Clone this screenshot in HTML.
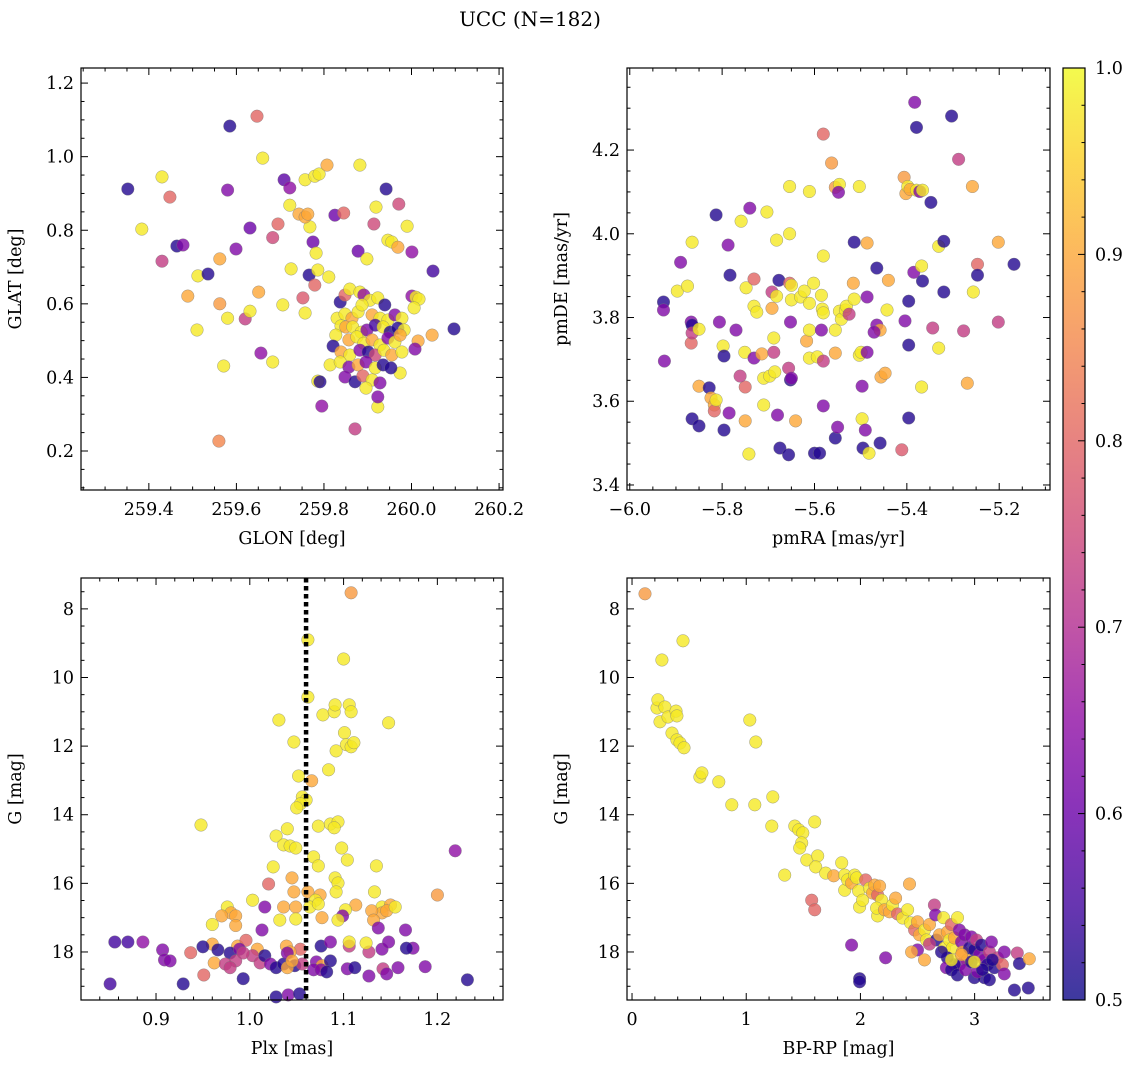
<!DOCTYPE html>
<html><head><meta charset="utf-8">
<style>
html,body{margin:0;padding:0;background:#fff;}
svg{display:block;font-family:"DejaVu Serif","Liberation Serif",serif;}
</style></head>
<body>
<svg id="chart" width="1136" height="1067" viewBox="0 0 1136 1067" xmlns="http://www.w3.org/2000/svg">
<defs>
<linearGradient id="plasma" x1="0" y1="1" x2="0" y2="0">
<stop offset="0" stop-color="#0d0887"/><stop offset="0.1" stop-color="#41049d"/><stop offset="0.2" stop-color="#6a00a8"/><stop offset="0.3" stop-color="#8f0da4"/><stop offset="0.4" stop-color="#b12a90"/><stop offset="0.5" stop-color="#cc4778"/><stop offset="0.6" stop-color="#e16462"/><stop offset="0.7" stop-color="#f2844b"/><stop offset="0.8" stop-color="#fca636"/><stop offset="0.9" stop-color="#fcce25"/><stop offset="1" stop-color="#f0f921"/>
</linearGradient>
</defs>
<text x="530" y="26" font-size="20" text-anchor="middle">UCC (N=182)</text>
</svg>
<script>
// ---------- Panel 1: GLON / GLAT ----------
const glon=[259.352,259.384,259.43,259.448,259.464,259.478,259.43,259.489,259.512,259.51,259.535,259.562,259.562,259.56,259.58,259.571,259.585,259.58,259.599,259.62,259.631,259.631,259.647,259.66,259.651,259.656,259.683,259.683,259.695,259.706,259.709,259.722,259.722,259.725,259.743,259.768,259.757,259.763,259.757,259.779,259.789,259.807,259.775,259.752,259.757,259.766,259.779,259.782,259.786,259.786,259.791,259.795,259.811,259.825,259.845,259.882,259.878,259.898,259.914,259.919,259.942,259.946,259.955,259.971,259.99,259.969,260.001,260.049,260.001,260.01,260.017,260.006,260.047,260.097,260.015,260.008,259.974,259.871,259.923,259.923,
259.837,259.848,259.859,259.882,259.891,259.905,259.923,259.939,259.83,259.848,259.864,259.878,259.887,259.91,259.928,259.946,259.962,259.978,259.839,259.85,259.866,259.885,259.898,259.917,259.935,259.951,259.969,259.983,259.827,259.857,259.875,259.891,259.91,259.928,259.946,259.962,259.974,259.821,259.839,259.859,259.882,259.901,259.917,259.937,259.955,259.978,259.814,259.837,259.857,259.878,259.896,259.917,259.935,259.953,259.848,259.871,259.889,259.91,259.928,259.896];
const glat=[0.912,0.803,0.945,0.89,0.757,0.76,0.716,0.621,0.676,0.529,0.681,0.722,0.6,0.227,0.561,0.431,1.083,0.909,0.749,0.559,0.806,0.58,1.11,0.996,0.632,0.466,0.442,0.78,0.817,0.597,0.937,0.915,0.868,0.695,0.844,0.809,0.836,0.844,0.937,0.947,0.953,0.977,0.768,0.616,0.575,0.678,0.651,0.738,0.692,0.39,0.388,0.322,0.673,0.841,0.847,0.977,0.743,0.722,0.817,0.863,0.912,0.773,0.768,0.871,0.811,0.754,0.741,0.689,0.621,0.618,0.613,0.589,0.515,0.532,0.499,0.477,0.412,0.26,0.32,0.347,
0.605,0.624,0.64,0.632,0.624,0.61,0.616,0.597,0.561,0.572,0.561,0.578,0.597,0.57,0.561,0.556,0.57,0.561,0.54,0.537,0.537,0.523,0.529,0.542,0.537,0.523,0.534,0.529,0.515,0.502,0.51,0.493,0.502,0.488,0.507,0.496,0.515,0.485,0.469,0.461,0.474,0.469,0.461,0.474,0.461,0.469,0.434,0.442,0.428,0.434,0.442,0.426,0.434,0.426,0.401,0.388,0.404,0.393,0.385,0.371];
const prob1=[0.52,0.98,0.98,0.8,0.52,0.63,0.73,0.9,0.98,0.98,0.52,0.9,0.88,0.85,0.98,0.98,0.52,0.63,0.63,0.73,0.6,0.98,0.8,0.98,0.9,0.65,0.98,0.75,0.8,0.98,0.58,0.65,0.98,0.98,0.9,0.98,0.9,0.9,0.98,0.98,0.98,0.9,0.6,0.78,0.98,0.52,0.8,0.98,0.98,0.98,0.52,0.65,0.98,0.6,0.8,0.98,0.6,0.98,0.75,0.98,0.52,0.98,0.98,0.75,0.98,0.9,0.65,0.55,0.65,0.98,0.98,0.98,0.9,0.52,0.9,0.63,0.98,0.73,0.98,0.63,
0.52,0.8,0.98,0.98,0.65,0.98,0.98,0.52,0.98,0.98,0.9,0.98,0.98,0.9,0.98,0.98,0.63,0.98,0.98,0.9,0.98,0.98,0.63,0.55,0.98,0.52,0.52,0.98,0.98,0.9,0.98,0.98,0.9,0.98,0.63,0.98,0.9,0.52,0.9,0.98,0.63,0.52,0.75,0.98,0.9,0.98,0.98,0.98,0.63,0.9,0.63,0.98,0.52,0.52,0.63,0.52,0.8,0.98,0.63,0.98];

// ---------- Panel 2: pmRA / pmDE ----------
const pmra=[-5.927,-5.927,-5.925,-5.897,-5.89,-5.875,-5.865,-5.867,-5.865,-5.867,-5.865,-5.85,-5.85,-5.828,-5.865,-5.85,-5.824,-5.817,-5.817,-5.813,-5.813,-5.806,-5.798,-5.796,-5.796,-5.785,-5.787,-5.783,-5.77,-5.759,-5.748,-5.751,-5.75,-5.75,-5.761,-5.74,-5.731,-5.731,-5.731,-5.742,-5.725,-5.714,-5.71,-5.71,-5.703,-5.697,-5.692,-5.692,-5.688,-5.688,-5.686,-5.682,-5.682,-5.677,-5.68,-5.675,-5.654,-5.654,-5.65,-5.65,-5.652,-5.656,-5.652,-5.65,-5.656,-5.654,-5.641,-5.63,-5.622,-5.617,-5.611,-5.611,-5.611,-5.602,-5.611,-5.6,-5.589,-5.594,-5.585,-5.581,-5.583,-5.585,-5.581,-5.581,-5.581,-5.581,-5.563,-5.555,-5.555,-5.555,-5.55,-5.555,-5.546,-5.548,-5.546,-5.542,-5.533,-5.531,-5.525,-5.516,-5.514,-5.514,-5.503,-5.503,-5.499,-5.497,-5.497,-5.495,-5.49,-5.486,-5.486,-5.486,-5.482,-5.458,-5.465,-5.465,-5.458,-5.471,-5.456,-5.447,-5.44,-5.443,-5.411,-5.406,-5.404,-5.402,-5.398,-5.396,-5.396,-5.396,-5.393,-5.385,-5.383,-5.379,-5.379,-5.372,-5.366,-5.368,-5.368,-5.366,-5.348,-5.344,-5.331,-5.331,-5.32,-5.32,-5.303,-5.288,-5.277,-5.269,-5.258,-5.256,-5.247,-5.247,-5.202,-5.202,-5.168];
const pmde=[3.837,3.818,3.696,3.863,3.932,3.875,3.98,3.789,3.782,3.739,3.763,3.772,3.636,3.632,3.558,3.541,3.608,3.591,3.577,3.603,4.045,3.789,3.732,3.708,3.531,3.572,3.973,3.901,3.77,4.03,3.871,3.717,3.553,3.634,3.66,4.061,3.892,3.827,3.703,3.474,3.813,3.713,3.655,3.591,4.052,3.66,3.861,3.822,3.751,3.717,3.67,3.985,3.851,3.889,3.567,3.488,4.0,3.882,3.877,3.842,3.789,3.679,3.651,3.655,3.472,4.113,3.553,3.849,3.863,3.744,3.834,4.101,3.703,3.882,3.77,3.476,3.476,3.706,3.853,3.947,3.82,3.77,3.811,3.589,3.696,4.238,4.169,3.77,3.715,3.512,3.538,4.111,4.118,4.099,3.815,3.796,3.818,3.827,3.808,3.882,3.98,3.844,4.113,3.71,3.717,3.636,3.558,3.488,3.531,3.978,3.849,3.717,3.476,3.5,3.918,3.782,3.77,3.765,3.658,3.667,3.889,3.818,3.484,4.135,3.792,4.096,4.113,3.734,3.56,3.839,4.106,3.908,4.314,4.254,4.104,4.101,4.104,3.923,3.634,3.887,4.075,3.775,3.727,3.97,3.982,3.861,4.281,4.178,3.768,3.643,4.113,3.861,3.927,3.901,3.98,3.789,3.927];
const prob2=[0.52,0.63,0.63,0.98,0.63,0.98,0.98,0.63,0.52,0.8,0.73,0.98,0.9,0.52,0.52,0.52,0.9,0.9,0.8,0.98,0.52,0.63,0.98,0.52,0.52,0.63,0.63,0.52,0.63,0.98,0.98,0.98,0.9,0.8,0.73,0.63,0.8,0.98,0.63,0.98,0.98,0.9,0.98,0.98,0.98,0.98,0.73,0.9,0.98,0.73,0.98,0.98,0.98,0.52,0.63,0.52,0.98,0.8,0.98,0.98,0.63,0.73,0.52,0.63,0.52,0.98,0.9,0.98,0.98,0.9,0.98,0.98,0.98,0.98,0.98,0.52,0.52,0.98,0.98,0.98,0.98,0.63,0.98,0.63,0.73,0.8,0.88,0.98,0.9,0.52,0.63,0.88,0.98,0.63,0.98,0.98,0.98,0.98,0.73,0.9,0.52,0.98,0.98,0.98,0.98,0.63,0.98,0.52,0.63,0.9,0.63,0.63,0.98,0.52,0.52,0.63,0.9,0.63,0.9,0.9,0.9,0.98,0.78,0.88,0.63,0.9,0.98,0.52,0.52,0.52,0.9,0.63,0.63,0.52,0.98,0.63,0.98,0.98,0.98,0.52,0.52,0.73,0.98,0.98,0.52,0.52,0.52,0.73,0.73,0.9,0.9,0.98,0.8,0.52,0.9,0.73,0.52];

// ---------- Panel 3: Plx / G ----------
const plx=[1.108,1.062,1.1,1.062,1.031,1.078,1.09,1.091,1.106,1.108,1.148,1.047,1.101,1.103,1.108,1.111,1.092,1.084,1.066,1.052,1.056,1.06,1.054,1.05,1.073,1.086,1.094,1.09,1.04,1.028,0.948,1.036,1.043,1.049,1.068,1.073,1.098,1.104,1.135,1.219,1.025,1.091,1.094,1.092,1.02,1.045,1.047,1.062,1.075,1.07,1.2,1.133,1.141,1.15,1.141,1.146,1.13,1.155,1.113,1.102,1.099,1.003,0.976,0.98,0.97,0.985,1.016,1.036,1.049,1.064,1.073,0.96,0.985,1.032,1.049,1.077,1.094,1.132,1.137,1.166,1.013,0.96,0.987,0.996,1.008,1.039,1.054,1.043,1.076,1.086,1.106,1.127,1.141,1.148,1.174,1.167,1.106,1.124,0.856,0.87,0.886,0.907,0.909,0.915,0.937,0.95,0.966,0.979,0.989,0.985,1.003,0.951,0.962,0.974,0.979,0.993,1.011,1.016,1.022,1.028,1.036,1.04,1.048,1.056,1.071,1.077,1.086,1.068,1.076,1.082,1.104,1.112,1.142,1.146,1.127,1.158,1.187,0.993,0.929,0.851,1.041,1.053,1.028,1.232,1.04,1.045];
const gmag3=[7.53,8.9,9.46,10.57,11.24,11.09,11.0,10.8,10.8,11.0,11.32,11.88,11.61,11.96,12.02,11.9,12.14,12.69,13.01,12.87,13.48,13.57,13.68,13.8,14.33,14.27,14.21,14.38,14.41,14.62,14.3,14.88,14.91,14.97,15.23,15.49,14.97,15.32,15.49,15.05,15.52,15.84,15.99,16.25,16.02,15.84,16.25,16.25,16.34,16.49,16.34,16.25,16.69,16.63,16.86,16.8,16.8,16.69,16.63,16.77,16.95,16.49,16.69,16.86,16.95,16.95,16.69,16.69,16.69,16.69,16.6,17.2,17.23,17.07,17.04,17.0,17.07,17.07,17.3,17.36,17.36,17.77,17.83,17.66,17.92,17.83,17.92,18.0,17.83,17.71,17.83,18.0,17.92,17.71,17.89,17.89,17.71,17.74,17.71,17.71,17.71,17.94,18.23,18.26,18.02,17.85,17.94,18.03,17.92,18.26,18.11,18.67,18.32,18.35,18.46,18.03,18.32,18.11,18.35,18.46,18.35,18.03,18.4,18.35,18.29,18.4,18.26,18.52,18.52,18.58,18.49,18.46,18.49,18.64,18.7,18.46,18.43,18.78,18.93,18.93,19.25,19.22,19.31,18.81,18.46,18.26];
const prob3=[0.88,0.98,0.98,0.98,0.98,0.98,0.98,0.98,0.98,0.98,0.98,0.98,0.98,0.98,0.98,0.98,0.98,0.98,0.9,0.98,0.98,0.98,0.98,0.98,0.98,0.98,0.98,0.98,0.98,0.98,0.98,0.98,0.98,0.98,0.98,0.98,0.98,0.98,0.98,0.65,0.98,0.98,0.98,0.98,0.8,0.9,0.9,0.9,0.9,0.98,0.88,0.98,0.98,0.9,0.9,0.9,0.9,0.98,0.9,0.98,0.63,0.98,0.98,0.9,0.9,0.9,0.63,0.9,0.9,0.98,0.98,0.98,0.9,0.98,0.98,0.9,0.98,0.9,0.63,0.63,0.63,0.9,0.9,0.8,0.9,0.9,0.8,0.9,0.52,0.63,0.73,0.73,0.63,0.63,0.63,0.52,0.98,0.98,0.55,0.55,0.65,0.63,0.63,0.63,0.8,0.52,0.52,0.52,0.63,0.73,0.73,0.8,0.9,0.73,0.73,0.73,0.73,0.52,0.63,0.52,0.52,0.63,0.52,0.73,0.63,0.9,0.52,0.63,0.63,0.52,0.63,0.52,0.73,0.63,0.63,0.63,0.63,0.52,0.52,0.55,0.63,0.52,0.52,0.52,0.9,0.9];

// ---------- Panel 4: BP-RP / G ----------
const bprp=[0.114,0.446,0.262,0.219,0.227,0.288,0.245,0.315,0.35,0.385,0.393,0.393,0.42,0.455,0.594,0.612,0.76,0.874,1.031,1.084,1.075,1.233,1.224,1.337,1.425,1.46,1.495,1.486,1.468,1.53,1.6,1.626,1.573,1.6,1.608,1.696,1.766,1.836,1.862,1.862,1.888,1.923,1.949,1.967,1.984,1.993,2.019,2.045,2.08,2.107,2.124,2.15,2.168,2.185,2.15,2.142,2.211,2.255,2.281,2.308,2.325,2.369,2.413,2.43,2.439,2.474,2.5,2.517,2.561,2.579,2.605,2.648,2.657,2.666,2.692,2.727,2.736,2.762,2.78,2.797,2.806,2.823,2.85,2.867,2.885,2.893,2.911,2.937,2.955,2.972,2.998,3.016,3.042,3.059,3.085,3.112,3.129,3.147,3.173,3.199,3.243,3.26,3.086,2.998,2.867,2.823,2.762,2.71,2.753,2.797,2.849,2.92,2.972,3.025,3.068,3.155,2.5,2.561,2.448,2.22,1.923,1.993,1.993,3.374,3.26,3.392,3.47,3.348,3.479,3.129,2.998,2.797,2.885,2.605];
const gmag4=[7.56,8.93,9.49,10.89,10.65,10.86,11.29,11.15,11.62,10.98,11.12,11.82,11.91,12.05,12.9,12.78,13.04,13.71,11.24,11.88,13.71,13.48,14.33,15.76,14.33,14.44,14.53,14.82,14.97,15.32,14.21,15.2,16.49,16.77,15.52,15.7,15.78,15.4,15.76,16.2,15.9,15.99,15.76,15.84,16.22,16.69,16.49,15.9,16.14,16.28,16.05,16.34,16.08,16.49,16.95,16.72,16.77,16.83,16.63,16.43,16.89,17.01,16.77,16.02,17.15,17.36,17.12,17.5,17.36,17.65,17.2,16.63,16.92,17.65,17.5,17.0,17.88,17.42,17.65,17.2,17.88,17.59,17.0,17.36,17.71,18.0,17.5,18.23,17.88,17.56,17.94,17.65,18.08,17.8,18.23,18.37,18.0,17.71,18.46,18.17,18.37,18.0,18.75,18.75,18.37,18.37,18.17,18.0,18.46,18.52,18.67,18.52,18.29,18.58,18.52,18.23,17.94,18.23,18.0,18.17,17.8,18.78,18.87,18.03,18.64,18.34,19.05,19.11,18.2,18.81,18.29,18.23,18.08,17.77];
const prob4=[0.88,0.98,0.98,0.98,0.98,0.98,0.98,0.98,0.98,0.98,0.98,0.98,0.98,0.98,0.98,0.98,0.98,0.98,0.98,0.98,0.98,0.98,0.98,0.98,0.98,0.98,0.98,0.98,0.98,0.98,0.98,0.98,0.8,0.8,0.98,0.98,0.9,0.98,0.98,0.98,0.98,0.9,0.98,0.98,0.98,0.98,0.98,0.8,0.98,0.9,0.9,0.8,0.9,0.98,0.98,0.98,0.9,0.9,0.98,0.9,0.8,0.98,0.98,0.9,0.98,0.8,0.9,0.9,0.98,0.98,0.9,0.73,0.63,0.52,0.9,0.98,0.98,0.9,0.98,0.8,0.98,0.9,0.98,0.63,0.63,0.9,0.63,0.9,0.52,0.63,0.52,0.73,0.63,0.52,0.63,0.52,0.73,0.63,0.52,0.73,0.8,0.63,0.52,0.52,0.63,0.52,0.52,0.52,0.63,0.52,0.52,0.63,0.52,0.63,0.52,0.52,0.63,0.9,0.9,0.63,0.63,0.52,0.52,0.73,0.63,0.52,0.52,0.52,0.9,0.52,0.98,0.98,0.9,0.73];

const plxLine=1.06;
const cbTicks=[0.5,0.6,0.7,0.8,0.9,1.0];

const NS='http://www.w3.org/2000/svg';
const svg=document.getElementById('chart');
const FS=17.5;
function mk(tag,attrs,parent){const e=document.createElementNS(NS,tag);for(const k in attrs)e.setAttribute(k,attrs[k]);(parent||svg).appendChild(e);return e;}
const stops=[[0,13,8,135],[0.1,65,4,157],[0.2,106,0,168],[0.3,143,13,164],[0.4,177,42,144],[0.5,204,71,120],[0.6,225,100,98],[0.7,242,132,75],[0.8,252,166,54],[0.9,252,206,37],[1,240,249,33]];
function plasma(v){let t=(v-0.5)/0.5;t=Math.max(0,Math.min(1,t));for(let i=1;i<stops.length;i++){if(t<=stops[i][0]){const a=stops[i-1],b=stops[i];const f=(t-a[0])/(b[0]-a[0]);return 'rgb('+[1,2,3].map(j=>Math.round(a[j]+f*(b[j]-a[j]))).join(',')+')';}}return 'rgb(240,249,33)';}
function fmt(v,d){let s=v.toFixed(d);if(v<0)s='\u2212'+s.slice(1);return s;}

function panel(c){
  const g=mk('g',{});
  
  
  const sx=v=>c.x0+(v-c.dx[0])/(c.dx[1]-c.dx[0])*(c.x1-c.x0);
  const sy=v=>c.rev? c.y0+(v-c.dy[0])/(c.dy[1]-c.dy[0])*(c.y1-c.y0) : c.y1-(v-c.dy[0])/(c.dy[1]-c.dy[0])*(c.y1-c.y0);
  const pts=mk('g',{},g);
  
  
  for(let i=0;i<c.xs.length;i++){
    const p=mk('circle',{cx:sx(c.xs[i]).toFixed(1),cy:sy(c.ys[i]).toFixed(1),r:6.3,fill:plasma(c.ps[i]),'fill-opacity':0.8,stroke:'#777','stroke-width':0.5,'stroke-opacity':0.7},pts);
    
    
  }
  if(c.vline!==undefined){
    const l=mk('line',{x1:sx(c.vline),x2:sx(c.vline),y1:c.y0,y2:c.y1,stroke:'#000','stroke-width':4.5,'stroke-dasharray':'4.5 3.5'},g);
    
    
  }
  const ax=mk('g',{stroke:'#000','stroke-width':1},g);
  
  
  mk('rect',{x:c.x0,y:c.y0,width:c.x1-c.x0,height:c.y1-c.y0,fill:'none','stroke-width':1.2},ax);
  const xs0=Math.ceil((c.dx[0]-1e-9)/c.xmin);
  for(let k=xs0;k*c.xmin<=c.dx[1]+1e-9;k++){
    const v=k*c.xmin,px=sx(v);const major=Math.abs(v/c.xmaj-Math.round(v/c.xmaj))<1e-6;const L=major?7:3.5;
    mk('line',{x1:px,x2:px,y1:c.y1,y2:c.y1-L},ax);mk('line',{x1:px,x2:px,y1:c.y0,y2:c.y0+L},ax);
    if(major){const t=mk('text',{x:px,y:c.y1+25,'font-size':FS,'text-anchor':'middle',stroke:'none',fill:'#000'},g);t.textContent=fmt(v,c.xd);}
  }
  const ys0=Math.ceil((c.dy[0]-1e-9)/c.ymin);
  for(let k=ys0;k*c.ymin<=c.dy[1]+1e-9;k++){
    const v=k*c.ymin,py=sy(v);const major=Math.abs(v/c.ymaj-Math.round(v/c.ymaj))<1e-6;const L=major?7:3.5;
    mk('line',{x1:c.x0,x2:c.x0+L,y1:py,y2:py},ax);mk('line',{x1:c.x1,x2:c.x1-L,y1:py,y2:py},ax);
    if(major){const t=mk('text',{x:c.x0-7,y:py+6,'font-size':FS,'text-anchor':'end',stroke:'none',fill:'#000'},g);t.textContent=fmt(v,c.yd);}
  }
  const xt=mk('text',{x:(c.x0+c.x1)/2,y:c.y1+54,'font-size':FS,'text-anchor':'middle'},g);xt.textContent=c.xl;
  
  
  const yx=c.x0-c.ylo;const yt=mk('text',{x:yx,y:(c.y0+c.y1)/2,'font-size':FS,'text-anchor':'middle',transform:'rotate(-90 '+yx+' '+(c.y0+c.y1)/2+')'},g);yt.textContent=c.yl;
  
  
}
panel({name:'glon-glat-panel',x0:81,x1:503,y0:68,y1:490,dx:[259.245,260.209],dy:[0.094,1.241],xs:glon,ys:glat,ps:prob1,xmaj:0.2,xmin:0.05,ymaj:0.2,ymin:0.05,xd:1,yd:1,xl:'GLON [deg]',yl:'GLAT [deg]',ylo:60});
panel({name:'pm-panel',x0:627,x1:1050,y0:68,y1:490,dx:[-6.006,-5.09],dy:[3.388,4.396],xs:pmra,ys:pmde,ps:prob2,xmaj:0.2,xmin:0.05,ymaj:0.2,ymin:0.05,xd:1,yd:1,xl:'pmRA [mas/yr]',yl:'pmDE [mas/yr]',ylo:60});
panel({name:'plx-g-panel',x0:81,x1:503,y0:578,y1:1000,dx:[0.82,1.27],dy:[7.1,19.4],rev:true,xs:plx,ys:gmag3,ps:prob3,xmaj:0.1,xmin:0.02,ymaj:2,ymin:0.5,xd:1,yd:0,xl:'Plx [mas]',yl:'G [mag]',ylo:60,vline:plxLine});
panel({name:'cmd-panel',x0:627,x1:1050,y0:578,y1:1000,dx:[-0.044,3.66],dy:[7.1,19.4],rev:true,xs:bprp,ys:gmag4,ps:prob4,xmaj:1,xmin:0.2,ymaj:2,ymin:0.5,xd:0,yd:0,xl:'BP-RP [mag]',yl:'G [mag]',ylo:60});

const cb=mk('g',{});


const cbx0=1063,cbx1=1085,cby0=68,cby1=1000;
mk('rect',{x:cbx0,y:cby0,width:cbx1-cbx0,height:cby1-cby0,fill:'url(#plasma)','fill-opacity':0.8,stroke:'#000','stroke-width':1.2},cb);
const cy=v=>cby1-(v-0.5)/0.5*(cby1-cby0);
for(let k=25;k<=50;k++){const v=k*0.02;const py=cy(v);const major=k%5===0;mk('line',{x1:cbx1,x2:cbx1-(major?7:3.5),y1:py,y2:py,stroke:'#000','stroke-width':1},cb);}
cbTicks.forEach(v=>{const t=mk('text',{x:cbx1+10,y:cy(v)+6,'font-size':FS},cb);t.textContent=v.toFixed(1);

});
</script>
</body></html>
